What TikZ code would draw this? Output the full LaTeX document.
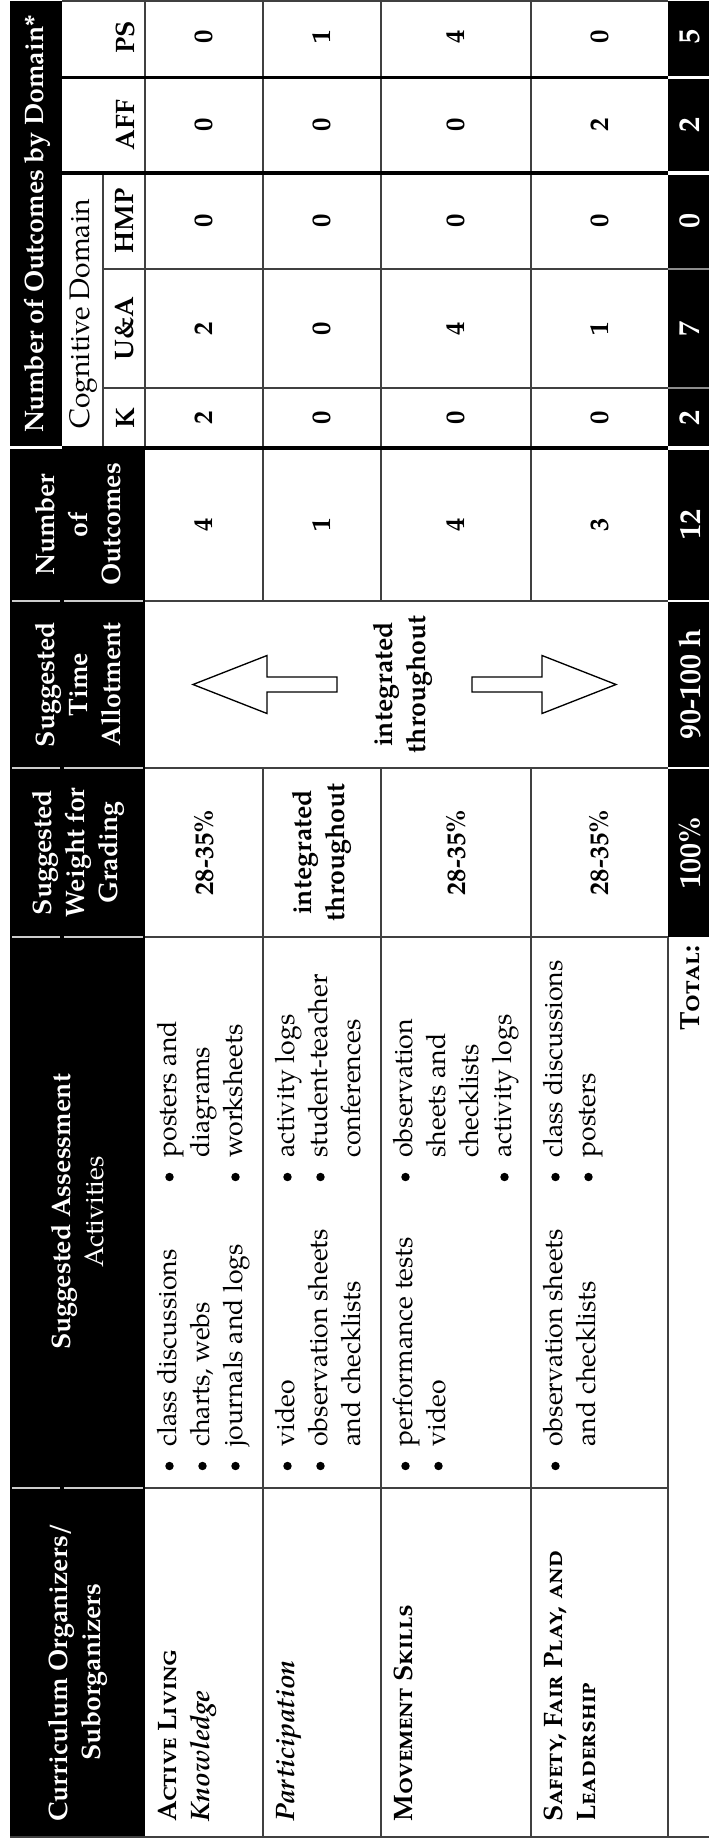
\documentclass[tikz,border=0pt]{standalone}
\usepackage{fontspec}
\setmainfont{texgyrepagella}[Extension=.otf, UprightFont=*-regular, BoldFont=*-bold, ItalicFont=*-italic, BoldItalicFont=*-bolditalic]
\newcommand\tfont{\fontsize{12}{14.85}\selectfont}
\newcommand\totfont{\fontsize{13.5}{16}\selectfont}
\newcommand\lines[1]{\begin{tabular}[t]{@{}l@{}}#1\end{tabular}}
\tikzset{
  cellline/.style={line width=0.5pt, draw=black!75},
  thickline/.style={line width=1.4pt, draw=black},
  hdsep/.style={line width=0.5pt, draw=black!20},
  hdtext/.style={rotate=90, text=white, font=\tfont\bfseries, align=center, inner sep=0pt},
  bodytext/.style={rotate=90, font=\tfont, inner sep=0pt, anchor=base west},
  numtext/.style={rotate=90, font=\tfont\bfseries, inner sep=0pt, align=center},
  totnum/.style={numtext, text=white, font=\totfont\bfseries},
  arrowshape/.style={draw=black, line width=0.6pt, fill=white, line join=miter},
}
\begin{document}
\begin{tikzpicture}[x=0.45pt, y=-0.45pt]
\useasboundingbox (0,0) rectangle (708,1848);
% header fills
\fill[black] (10,448) rectangle (145,1837);
\fill[black] (10,1) rectangle (62,446);
\fill[white] (10,446) rectangle (62,448.5);
% header separators
\foreach \yy in {601,768,937,1488} {
  \draw[hdsep] (12,\yy) -- (60,\yy);
  \draw[hdsep] (64,\yy) -- (143,\yy);
}
% total row fill
\fill[black] (668,1) rectangle (712,937);
% body grid
\foreach \xx in {263,381,531} {
  \draw[cellline] (\xx,1) -- (\xx,601);
  \draw[cellline] (\xx,768) -- (\xx,1837);
}
\draw[cellline] (668,937) -- (668,1837);
\draw[cellline] (145,1) -- (145,448);
\draw[cellline] (103,173) -- (103,448);
\draw[cellline] (62,1) -- (668,1);
\draw[cellline] (103,269) -- (668,269);
\draw[cellline] (103,388) -- (668,388);
\draw[cellline] (145,601) -- (668,601);
\draw[cellline] (145,768) -- (668,768);
\draw[cellline] (145,937) -- (668,937);
\draw[cellline] (145,1488) -- (668,1488);
\draw[cellline] (10,1837) -- (712,1837);
\draw[thickline] (62,77.5) -- (668,77.5);
\draw[thickline] (62,173) -- (668,173);
\draw[thickline] (62,448) -- (668,448);
% total row separators
\draw[white, line width=1.4pt] (668,77.5) -- (712,77.5);
\draw[white, line width=1.4pt] (668,173) -- (712,173);
\draw[white, line width=1.4pt] (668,448) -- (712,448);
\draw[black!45, line width=0.5pt] (668,269) -- (712,269);
\draw[black!45, line width=0.5pt] (668,388) -- (712,388);
\draw[white, line width=0.5pt] (668,601) -- (712,601);
\draw[white, line width=0.5pt] (668,768) -- (712,768);

% header texts
\node[hdtext] (hCur) at (78,1672) {Curriculum Organizers/\\Suborganizers};
\node[hdtext] (hAss) at (78,1212) {Suggested Assessment\\{\mdseries Activities}};
\node[hdtext] (hWt) at (78,852.5) {Suggested\\Weight for\\Grading};
\node[hdtext] (hTime) at (78,684.5) {Suggested\\Time\\Allotment};
\node[hdtext] (hNum) at (78,524.5) {Number\\of\\Outcomes};
\node[hdtext] (hDom) at (37,224) {Number of Outcomes by Domain*};
\node[numtext, font=\fontsize{12.7}{15}\selectfont] (hCog) at (83,314) {Cognitive Domain};
\node[numtext] (hK) at (125,418) {K};
\node[numtext] (hUA) at (125,328.5) {U\&A};
\node[numtext] (hHMP) at (125,221) {HMP};
\node[numtext] (hAFF) at (125,125) {AFF};
\node[numtext] (hPS) at (125,37) {PS};

% curriculum column
\node[bodytext, font=\tfont\bfseries] (cAL) at (176,1822) {\lines{\textsc{Active Living}\\\textit{Knowledge}}};
\node[bodytext, font=\tfont\bfseries] (cPa) at (294,1822) {\lines{\textit{Participation}}};
\node[bodytext, font=\tfont\bfseries] (cMo) at (412,1822) {\lines{\textsc{Movement Skills}}};
\node[bodytext, font=\tfont\bfseries] (cSa) at (562,1822) {\lines{\textsc{Safety, Fair Play, and}\\\textsc{Leadership}}};

% assessment column
\node[bodytext] (aAL1) at (176,1447) {\lines{class discussions\\charts, webs\\journals and logs}};
\node[bodytext] (aAL2) at (176,1158) {\lines{posters and\\diagrams\\worksheets}};
\node[bodytext] (aPa1) at (294,1447) {\lines{video\\observation sheets\\and checklists}};
\node[bodytext] (aPa2) at (294,1158) {\lines{activity logs\\student-teacher\\conferences}};
\node[bodytext] (aMo1) at (412,1447) {\lines{performance tests\\video}};
\node[bodytext] (aMo2) at (412,1158) {\lines{observation\\sheets and\\checklists\\activity logs}};
\node[bodytext] (aSa1) at (562,1447) {\lines{observation sheets\\and checklists}};
\node[bodytext] (aSa2) at (562,1158) {\lines{class discussions\\posters}};
% bullets
\foreach \xx in {169.5,202.5,235.5,287.5,320.5,405.5,438.5,555.5} \fill (\xx,1466) circle (1.9pt);
\foreach \xx in {169.5,235.5,287.5,320.5,405.5,504.5,555.5,588.5} \fill (\xx,1177) circle (1.9pt);

% weight column
\node[numtext] (wAL) at (204,852.5) {28-35\%};
\node[numtext] (wPa) at (322,852.5) {integrated\\throughout};
\node[numtext] (wMo) at (456,852.5) {28-35\%};
\node[numtext] (wSa) at (599.5,852.5) {28-35\%};

% time column
\draw[arrowshape] (193,684.5) -- (267,655.5) -- (267,677) -- (337,677) -- (337,692) -- (267,692) -- (267,713.5) -- cycle;
\draw[arrowshape] (616,684.5) -- (542,655.5) -- (542,677) -- (472,677) -- (472,692) -- (542,692) -- (542,713.5) -- cycle;
\node[numtext] (tInt) at (402.5,684.5) {integrated\\throughout};

% number of outcomes
\node[numtext] (nAL) at (204,524.5) {4};
\node[numtext] (nPa) at (322,524.5) {1};
\node[numtext] (nMo) at (456,524.5) {4};
\node[numtext] (nSa) at (599.5,524.5) {3};
% K
\node[numtext] (kAL) at (204,418) {2};
\node[numtext] (kPa) at (322,418) {0};
\node[numtext] (kMo) at (456,418) {0};
\node[numtext] (kSa) at (599.5,418) {0};
% U&A
\node[numtext] (uAL) at (204,328.5) {2};
\node[numtext] (uPa) at (322,328.5) {0};
\node[numtext] (uMo) at (456,328.5) {4};
\node[numtext] (uSa) at (599.5,328.5) {1};
% HMP
\node[numtext] (mAL) at (204,221) {0};
\node[numtext] (mPa) at (322,221) {0};
\node[numtext] (mMo) at (456,221) {0};
\node[numtext] (mSa) at (599.5,221) {0};
% AFF
\node[numtext] (fAL) at (204,125) {0};
\node[numtext] (fPa) at (322,125) {0};
\node[numtext] (fMo) at (456,125) {0};
\node[numtext] (fSa) at (599.5,125) {2};
% PS
\node[numtext] (pAL) at (204,37) {0};
\node[numtext] (pPa) at (322,37) {1};
\node[numtext] (pMo) at (456,37) {4};
\node[numtext] (pSa) at (599.5,37) {0};

% total row
\node[rotate=90, font=\fontsize{12.5}{15}\selectfont\bfseries, inner sep=0pt, anchor=base east] (tTot) at (699,945) {\textsc{Total:}};
\node[totnum] (tW) at (690,852.5) {100\%};
\node[totnum] (tT) at (690,684.5) {90-100 h};
\node[totnum] (tN) at (690,524.5) {12};
\node[totnum] (tK) at (690,418) {2};
\node[totnum] (tU) at (690,328.5) {7};
\node[totnum] (tM) at (690,221) {0};
\node[totnum] (tF) at (690,125) {2};
\node[totnum] (tP) at (690,37) {5};
\end{tikzpicture}
\end{document}
